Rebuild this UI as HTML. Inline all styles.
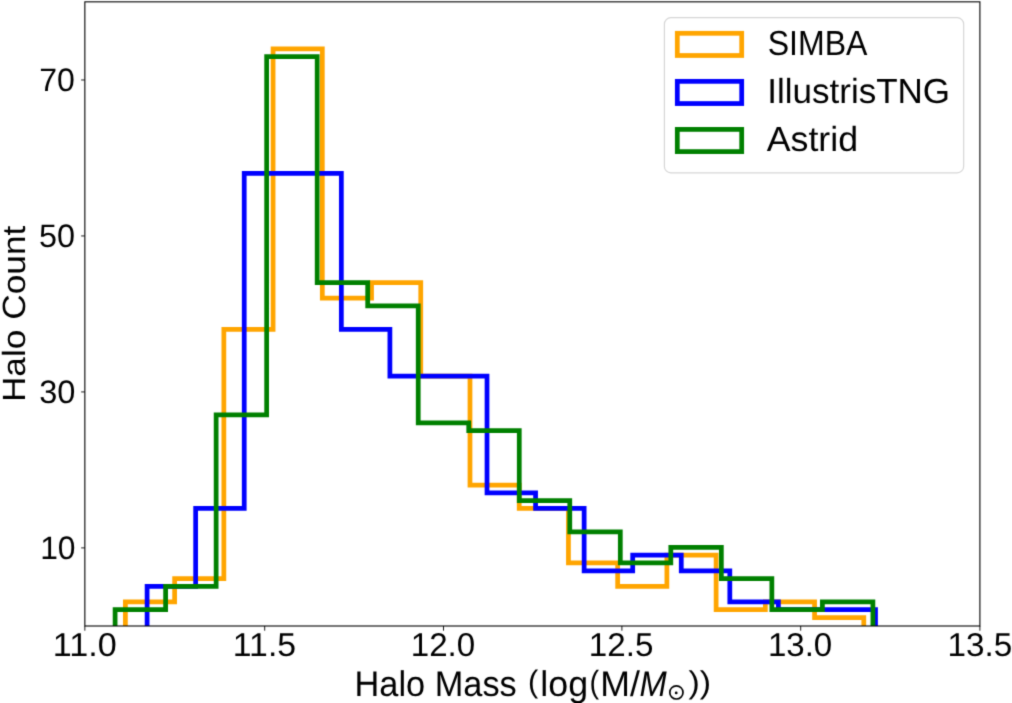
<!DOCTYPE html>
<html><head><meta charset="utf-8"><title>Halo Mass Histogram</title><style>
html,body{margin:0;padding:0;background:#fff;width:1012px;height:703px;overflow:hidden;}
svg{display:block;}
text{font-family:"Liberation Sans", sans-serif;fill:#000;text-rendering:geometricPrecision;}
</style></head><body>
<svg width="1012" height="703" viewBox="0 0 1012 703">
<defs><filter id="bl" filterUnits="userSpaceOnUse" x="0" y="0" width="1012" height="703" color-interpolation-filters="sRGB"><feConvolveMatrix order="3" kernelMatrix="0.0196 0.1008 0.0196 0.1008 0.5184 0.1008 0.0196 0.1008 0.0196" divisor="1" edgeMode="duplicate"/></filter></defs>
<g filter="url(#bl)">
<rect x="0" y="0" width="1012" height="703" fill="#fff"/>
<clipPath id="ax"><rect x="84.85" y="1.84" width="895.05" height="624.16"/></clipPath>
<g clip-path="url(#ax)" fill="none" stroke-width="4.75" stroke-linejoin="miter" stroke-linecap="butt">
<path d="M125.40,636.00 L125.40,601.93 L174.63,601.93 L174.63,578.56 L223.85,578.56 L223.85,329.28 L273.08,329.28 L273.08,48.84 L322.31,48.84 L322.31,298.12 L371.53,298.12 L371.53,282.54 L420.76,282.54 L420.76,376.02 L469.99,376.02 L469.99,485.08 L519.21,485.08 L519.21,508.45 L568.44,508.45 L568.44,562.98 L617.67,562.98 L617.67,586.35 L666.89,586.35 L666.89,555.19 L716.12,555.19 L716.12,609.72 L765.35,609.72 L765.35,601.93 L814.57,601.93 L814.57,617.51 L863.80,617.51 L863.80,636.00" stroke="#ffa500"/>
<path d="M147.10,636.00 L147.10,586.35 L195.66,586.35 L195.66,508.45 L244.22,508.45 L244.22,173.48 L292.78,173.48 L292.78,173.48 L341.34,173.48 L341.34,329.28 L389.90,329.28 L389.90,376.02 L438.46,376.02 L438.46,376.02 L487.02,376.02 L487.02,492.87 L535.58,492.87 L535.58,508.45 L584.14,508.45 L584.14,570.77 L632.70,570.77 L632.70,555.19 L681.26,555.19 L681.26,570.77 L729.82,570.77 L729.82,601.93 L778.38,601.93 L778.38,609.72 L826.94,609.72 L826.94,609.72 L875.50,609.72 L875.50,636.00" stroke="#0000ff"/>
<path d="M115.10,636.00 L115.10,609.72 L165.62,609.72 L165.62,586.35 L216.14,586.35 L216.14,414.97 L266.66,414.97 L266.66,56.63 L317.18,56.63 L317.18,282.54 L367.70,282.54 L367.70,305.91 L418.22,305.91 L418.22,422.76 L468.74,422.76 L468.74,430.55 L519.26,430.55 L519.26,500.66 L569.78,500.66 L569.78,531.82 L620.30,531.82 L620.30,562.98 L670.82,562.98 L670.82,547.40 L721.34,547.40 L721.34,578.56 L771.86,578.56 L771.86,609.72 L822.38,609.72 L822.38,601.93 L872.90,601.93 L872.90,636.00" stroke="#008000"/>
</g>
<rect x="84.85" y="1.84" width="895.05" height="624.16" fill="none" stroke="#000" stroke-width="1.1"/>
<path d="M84.85,626.00 V630.70 M264.70,626.00 V630.70 M443.50,626.00 V630.70 M621.90,626.00 V630.70 M800.70,626.00 V630.70 M979.90,626.00 V630.70 M84.85,547.90 H81.15 M84.85,391.93 H81.15 M84.85,235.95 H81.15 M84.85,79.97 H81.15" stroke="#000" stroke-width="0.9" fill="none"/>
<rect x="664.4" y="17.7" width="299.25" height="155.10" rx="6.4" ry="6.4" fill="#fff" stroke="#d6d6d6" stroke-width="1.17"/>
<rect x="677.3" y="33.30" width="64.4" height="22.20" fill="none" stroke="#ffa500" stroke-width="4.75"/>
<rect x="677.3" y="81.35" width="64.4" height="22.20" fill="none" stroke="#0000ff" stroke-width="4.75"/>
<rect x="677.3" y="129.40" width="64.4" height="22.20" fill="none" stroke="#008000" stroke-width="4.75"/>
<circle cx="676.4" cy="692.4" r="6.6" fill="none" stroke="#000" stroke-width="1.7"/>
<circle cx="676.2" cy="692.9" r="1.4" fill="#000"/>
<text x="40.14" y="558.72" font-size="32.50" textLength="35.38" lengthAdjust="spacingAndGlyphs">10</text>
<text x="39.22" y="402.74" font-size="32.50" textLength="36.18" lengthAdjust="spacingAndGlyphs">30</text>
<text x="39.05" y="246.95" font-size="32.50" textLength="36.00" lengthAdjust="spacingAndGlyphs">50</text>
<text x="39.19" y="90.55" font-size="32.50" textLength="35.62" lengthAdjust="spacingAndGlyphs">70</text>
<text x="52.73" y="656.00" font-size="32.95" textLength="63.99" lengthAdjust="spacingAndGlyphs">11.0</text>
<text x="232.82" y="656.00" font-size="32.95" textLength="63.26" lengthAdjust="spacingAndGlyphs">11.5</text>
<text x="410.77" y="656.00" font-size="32.95" textLength="64.41" lengthAdjust="spacingAndGlyphs">12.0</text>
<text x="588.81" y="656.00" font-size="32.95" textLength="64.57" lengthAdjust="spacingAndGlyphs">12.5</text>
<text x="767.90" y="656.00" font-size="32.95" textLength="64.35" lengthAdjust="spacingAndGlyphs">13.0</text>
<text x="947.59" y="656.00" font-size="32.95" textLength="64.74" lengthAdjust="spacingAndGlyphs">13.5</text>
<text x="767.71" y="54.88" font-size="34.75" textLength="99.77" lengthAdjust="spacingAndGlyphs">SIMBA</text>
<text x="767.25" y="103.15" font-size="34.75" textLength="182.86" lengthAdjust="spacingAndGlyphs">IllustrisTNG</text>
<text x="766.71" y="151.09" font-size="34.75" textLength="91.33" lengthAdjust="spacingAndGlyphs">Astrid</text>
<text x="354.57" y="696.00" font-size="35.67" textLength="162.20" lengthAdjust="spacingAndGlyphs">Halo Mass</text>
<text x="527.95" y="692.37" font-size="31.20" textLength="10.22" lengthAdjust="spacingAndGlyphs">(</text>
<text x="540.29" y="696.00" font-size="35.67" textLength="47.79" lengthAdjust="spacingAndGlyphs">log</text>
<text x="589.43" y="692.91" font-size="31.94" textLength="9.62" lengthAdjust="spacingAndGlyphs">(</text>
<text x="600.27" y="696.00" font-size="35.67" textLength="39.65" lengthAdjust="spacingAndGlyphs">M/</text>
<text x="639.54" y="696.00" font-size="35.67" textLength="27.22" lengthAdjust="spacingAndGlyphs" font-style="italic">M</text>
<text x="688.40" y="692.87" font-size="31.32" textLength="22.56" lengthAdjust="spacingAndGlyphs">))</text>
<text transform="translate(25.00,402.10) rotate(-90)" x="0" y="0" font-size="32.12" textLength="176.42" lengthAdjust="spacingAndGlyphs">Halo Count</text>
</g>
</svg>
</body></html>
